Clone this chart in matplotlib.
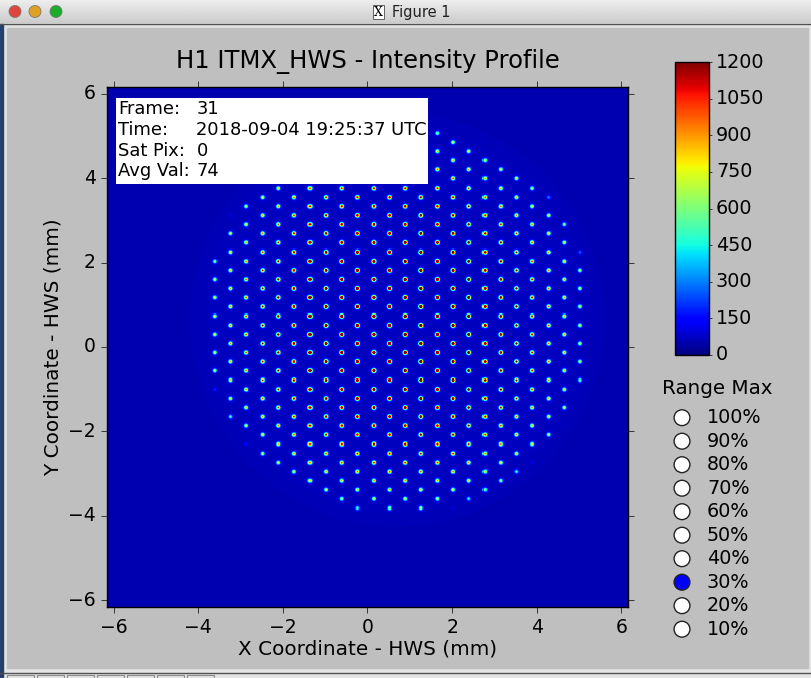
import numpy as np
import matplotlib
matplotlib.use("Agg")
import matplotlib.pyplot as plt
from matplotlib.patches import Rectangle, Circle

plt.style.use("classic")
plt.rcParams["font.family"] = ["DejaVu Sans"]

# texte et valeurs du graphique
TITLE = "H1 ITMX_HWS - Intensity Profile"
X_LABEL = "X Coordinate - HWS (mm)"
Y_LABEL = "Y Coordinate - HWS (mm)"
AXIS_TICKS = [-6, -4, -2, 0, 2, 4, 6]
CBAR_TICKS = [0, 150, 300, 450, 600, 750, 900, 1050, 1200]
INFO_KEYS = ["Frame:", "Time:", "Sat Pix:", "Avg Val:"]
INFO_VALUES = ["31", "2018-09-04 19:25:37 UTC", "0", "74"]
RANGE_LABELS = ["100%", "90%", "80%", "70%", "60%", "50%", "40%", "30%", "20%", "10%"]
RANGE_ACTIVE = "30%"

# description de l'image du capteur (mm, coups)
SENSOR_HALF = 6.16
SENSOR_PIXELS = 512
LATTICE_ORIGIN = (-3.62, 2.04)
COLUMN_PITCH = 0.3764
ROW_PITCH = 0.4345
APERTURE_CENTER = (0.71, 0.65)
APERTURE_RADIUS = 4.6
SPOT_PEAK = 1900
SPOT_FALLOFF = 3.1
SPOT_SIGMA = 0.032
HALO_SIGMA = 0.07
HALO_PEAK = 45
BG_OUTSIDE = 55
BG_INSIDE = 66
VMAX = 1200

W, H = 811, 678


def fig_box(left, top, right, bottom):
    """boite en pixels -> fractions de la figure"""
    return [left / W, 1 - bottom / H, (right - left) / W, (bottom - top) / H]


def build_frame():
    axis = np.linspace(-SENSOR_HALF, SENSOR_HALF, SENSOR_PIXELS)
    pix = axis[1] - axis[0]
    gx, gy = np.meshgrid(axis, axis)
    cx, cy = APERTURE_CENTER
    r_ap = np.hypot(gx - cx, gy - cy)
    edge = 0.5 * (1 - np.tanh((r_ap - APERTURE_RADIUS) / 0.3))
    img = BG_OUTSIDE + (BG_INSIDE - BG_OUTSIDE) * edge

    x0, y0 = LATTICE_ORIGIN
    for col in range(-12, 40):
        sx = x0 + col * COLUMN_PITCH
        for row in range(-25, 25):
            sy = y0 + row * ROW_PITCH + (col % 2) * ROW_PITCH / 2
            r = np.hypot(sx - cx, sy - cy)
            if r > APERTURE_RADIUS + 0.3:
                continue
            peak = SPOT_PEAK * np.exp(-r ** 2 / (2 * SPOT_FALLOFF ** 2))
            peak *= 0.5 * (1 - np.tanh((r - APERTURE_RADIUS) / 0.05))
            ix = int(round((sx + SENSOR_HALF) / pix))
            iy = int(round((sy + SENSOR_HALF) / pix))
            sl = (slice(max(iy - 8, 0), iy + 9), slice(max(ix - 8, 0), ix + 9))
            d2 = (gx[sl] - sx) ** 2 + (gy[sl] - sy) ** 2
            img[sl] += peak * np.exp(-d2 / (2 * SPOT_SIGMA ** 2))
            img[sl] += HALO_PEAK * (peak / SPOT_PEAK) * np.exp(-d2 / (2 * HALO_SIGMA ** 2))
    return img


fig = plt.figure(figsize=(W / 100, H / 100), dpi=100, facecolor="#e4e4e4")

# fenetre (barre de titre, bords)
ax_bg = fig.add_axes([0, 0, 1, 1], zorder=-10)
ax_bg.set_xlim(0, W)
ax_bg.set_ylim(H, 0)
ax_bg.axis("off")
ax_bg.add_patch(Rectangle((0, 24), 3.3, H - 24, color="#24406b"))
ax_bg.add_patch(Rectangle((7, 28), 801, 640, color="#bfbfbf"))
grad = np.linspace(0.93, 0.80, 24)[:, None]
ax_bg.imshow(grad, cmap="gray", vmin=0, vmax=1, extent=(0, W, 23, 0), aspect="auto")
ax_bg.plot([0, W], [23.5, 23.5], color="#505050", lw=1)
ax_bg.plot([0, W], [672.5, 672.5], color="#505050", lw=1)
for k in range(7):
    ax_bg.add_patch(Rectangle((7 + 30 * k, 675), 27, 10, fill=False, ec="#8a8a8a", lw=0.8))
for xc, c in zip([15, 35, 56], ["#e0443e", "#dea123", "#1aab29"]):
    ax_bg.add_patch(Circle((xc, 11.5), 6, fc=c, ec="#7a7a7a", lw=0.6))
ax_bg.add_patch(Rectangle((373, 5), 11, 14, fc="white", ec="#606060", lw=0.7))
ax_bg.text(378.5, 12.5, "X", ha="center", va="center", fontsize=9, family="DejaVu Serif")
ax_bg.text(392, 12, "Figure 1", ha="left", va="center", fontsize=10.5, color="#222222")

# image principale
ax = fig.add_axes(fig_box(107, 87, 628, 607))
img = build_frame()
im = ax.imshow(img, origin="lower", cmap="jet", vmin=0, vmax=VMAX,
               extent=[-SENSOR_HALF, SENSOR_HALF, -SENSOR_HALF, SENSOR_HALF],
               interpolation="nearest", aspect="auto")
ax.set_xlim(-SENSOR_HALF, SENSOR_HALF)
ax.set_ylim(-SENSOR_HALF, SENSOR_HALF)
ax.set_xticks(AXIS_TICKS)
ax.set_yticks(AXIS_TICKS)
ax.tick_params(direction="out", length=4, labelsize=13.5, top=True, right=True, pad=4)
ax.set_title(TITLE, fontsize=17.5, pad=14)
ax.set_xlabel(X_LABEL, fontsize=14.4, labelpad=2)
ax.set_ylabel(Y_LABEL, fontsize=14.4, labelpad=4)

# barre de couleurs
cax = fig.add_axes(fig_box(675, 62, 709, 355))
cb = fig.colorbar(im, cax=cax, ticks=CBAR_TICKS)
cb.ax.tick_params(direction="out", length=2.5, labelsize=13.8, pad=2.5)

# boutons radio "Range Max"
ax_r = fig.add_axes(fig_box(650, 372, 805, 645))
ax_r.set_xlim(650, 805)
ax_r.set_ylim(645, 372)
ax_r.axis("off")
ax_r.text(717.5, 388, "Range Max", ha="center", va="center", fontsize=14.3)
ys = [417.7 + 23.5 * i for i in range(len(RANGE_LABELS))]
faces = ["#0000ff" if lab == RANGE_ACTIVE else "white" for lab in RANGE_LABELS]
ax_r.scatter([682] * len(ys), ys, s=130, c=faces, edgecolors="#222222", linewidths=1, zorder=3)
for y, lab in zip(ys, RANGE_LABELS):
    ax_r.text(707, y, lab, ha="left", va="center", fontsize=13.8)

# encadre d'information
ax_ov = fig.add_axes([0, 0, 1, 1], zorder=10)
ax_ov.set_xlim(0, W)
ax_ov.set_ylim(H, 0)
ax_ov.axis("off")
ax_ov.add_patch(Rectangle((116, 98), 312, 86, fc="white", ec="none"))
for i, (key, val) in enumerate(zip(INFO_KEYS, INFO_VALUES)):
    yb = 114.3 + 20.6 * i
    ax_ov.text(118, yb, key, ha="left", va="baseline", fontsize=12.9)
    ax_ov.text(196.5, yb, val, ha="left", va="baseline", fontsize=12.9)

fig.savefig("out.png", dpi=100, facecolor=fig.get_facecolor())
